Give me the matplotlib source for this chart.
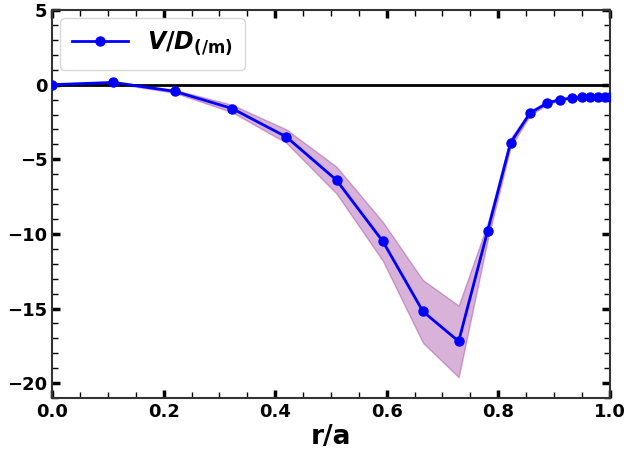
import matplotlib.pyplot as plt
from matplotlib.ticker import MultipleLocator

plt.rcParams['mathtext.fontset'] = 'custom'
plt.rcParams['mathtext.it'] = 'DejaVu Sans:italic:bold'
plt.rcParams['mathtext.bf'] = 'DejaVu Sans:bold'
plt.rcParams['mathtext.rm'] = 'DejaVu Sans:bold'

# radial positions and V/D profile
r = [0.0, 0.11, 0.22, 0.323, 0.42, 0.51, 0.593, 0.665, 0.729, 0.781, 0.822,
     0.857, 0.887, 0.91, 0.932, 0.95, 0.964, 0.978, 0.991, 1.0]
vd = [0.0, 0.15, -0.45, -1.6, -3.5, -6.4, -10.5, -15.2, -17.2, -9.8, -3.9,
      -1.9, -1.25, -1.0, -0.9, -0.85, -0.85, -0.85, -0.85, -0.85]
vd_hi = [0.05, 0.2, -0.35, -1.35, -3.0, -5.5, -9.2, -13.1, -14.8, -9.3, -3.6,
         -1.75, -1.15, -0.95, -0.85, -0.8, -0.8, -0.8, -0.8, -0.8]
vd_lo = [-0.05, 0.1, -0.55, -1.85, -3.9, -7.3, -11.8, -17.3, -19.6, -10.4, -4.2,
         -2.05, -1.35, -1.05, -0.95, -0.9, -0.9, -0.9, -0.9, -0.9]

fig = plt.figure(figsize=(6.28, 4.57), dpi=100)
ax = fig.add_axes([0.083, 0.129, 0.888, 0.849])

ax.fill_between(r, vd_lo, vd_hi, color='purple', alpha=0.3, lw=1)
ax.axhline(0, color='black', lw=2, zorder=1)
ax.plot(r, vd, '-o', color='blue', lw=2, ms=6.5, label=r'$V/D_{\mathbf{(/m)}}$', zorder=3)

ax.set_xlim(0, 1)
ax.set_ylim(-21, 5)
ax.xaxis.set_major_locator(MultipleLocator(0.2))
ax.xaxis.set_minor_locator(MultipleLocator(0.05))
ax.yaxis.set_major_locator(MultipleLocator(5))
ax.yaxis.set_minor_locator(MultipleLocator(1))
ax.tick_params(which='both', direction='in', top=True, right=True)
ax.tick_params(which='major', length=6, width=2.5, labelsize=13)
ax.tick_params(which='minor', length=4, width=1)
for lab in ax.get_xticklabels() + ax.get_yticklabels():
    lab.set_fontweight('bold')
for s in ax.spines.values():
    s.set_linewidth(1.5)
    s.set_color('#333333')

ax.set_xlabel('r/a', fontsize=19, fontweight='bold', labelpad=2)
ax.legend(loc='upper left', fontsize=17, handlelength=2.4, borderpad=0.5,
          borderaxespad=0, bbox_to_anchor=(0.014, 0.98), fancybox=True)

fig.savefig('out.png', dpi=100)
